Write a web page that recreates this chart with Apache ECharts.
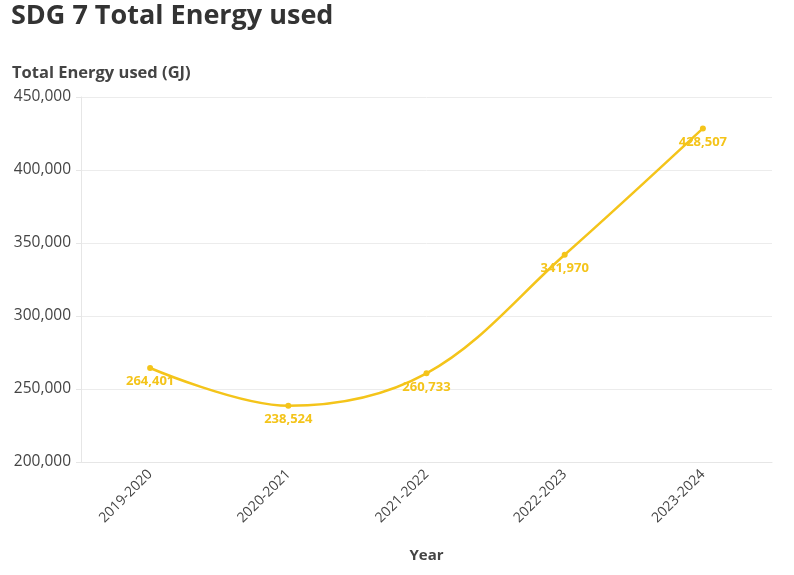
<!DOCTYPE html>
<html><head><meta charset="utf-8">
<script src="https://cdn.jsdelivr.net/npm/echarts@6/dist/echarts.min.js"></script>
<style>html,body{margin:0;padding:0;background:#fff}#c{width:794px;height:575px}</style>
</head><body><div id="c"></div>
<script>
const categories = ['2019-2020','2020-2021','2021-2022','2022-2023','2023-2024'];
const energyValues = [264401, 238524, 260733, 341970, 428507];
const yTicks = [200000, 250000, 300000, 350000, 400000, 450000];

const chart = echarts.init(document.getElementById('c'), null, {renderer:'canvas'});
const font = '"Open Sans", "Noto Sans", sans-serif';
chart.setOption({
  animation:false,
  textStyle:{fontFamily:font},
  title:[
    {text:'SDG 7 Total Energy used', left:6, top:-2, textStyle:{fontFamily:font, fontSize:27, fontWeight:'bold', color:'#333'}},
    {text:'Total Energy used (GJ)', left:7, top:60, textStyle:{fontFamily:font, fontSize:16.5, fontWeight:'bold', color:'#444'}}
  ],
  grid:{left:81, right:22, top:97, bottom:113},
  xAxis:{
    type:'category', data:categories, boundaryGap:true,
    name:'Year', nameLocation:'middle', nameGap:86,
    nameTextStyle:{fontFamily:font, fontSize:15, fontWeight:'bold', color:'#444'},
    axisLine:{lineStyle:{color:'#e6e6e6'}},
    axisTick:{alignWithLabel:true, length:5, lineStyle:{color:'#e6e6e6'}},
    axisLabel:{rotate:45, fontSize:14, color:'#444', margin:10, fontFamily:font}
  },
  yAxis:{
    type:'value', min:yTicks[0], max:yTicks[yTicks.length-1], interval:50000,
    axisLine:{show:true, lineStyle:{color:'#e6e6e6'}},
    axisTick:{show:true, length:5, lineStyle:{color:'#e6e6e6'}},
    splitLine:{lineStyle:{color:'#ececec'}},
    axisLabel:{fontSize:15.5, color:'#444', margin:10, fontFamily:font,
      formatter:v=>v.toLocaleString('en-US')}
  },
  series:[{
    type:'line', data:energyValues, smooth:0.35,
    symbol:'circle', symbolSize:6,
    lineStyle:{color:'#f4c41a', width:2.5},
    itemStyle:{color:'#f4c41a'},
    label:{show:true, position:'bottom', distance:4, color:'#f4c41a', fontWeight:'bold', fontSize:13, fontFamily:font,
      formatter:p=>p.value.toLocaleString('en-US')}
  }]
});
</script></body></html>
